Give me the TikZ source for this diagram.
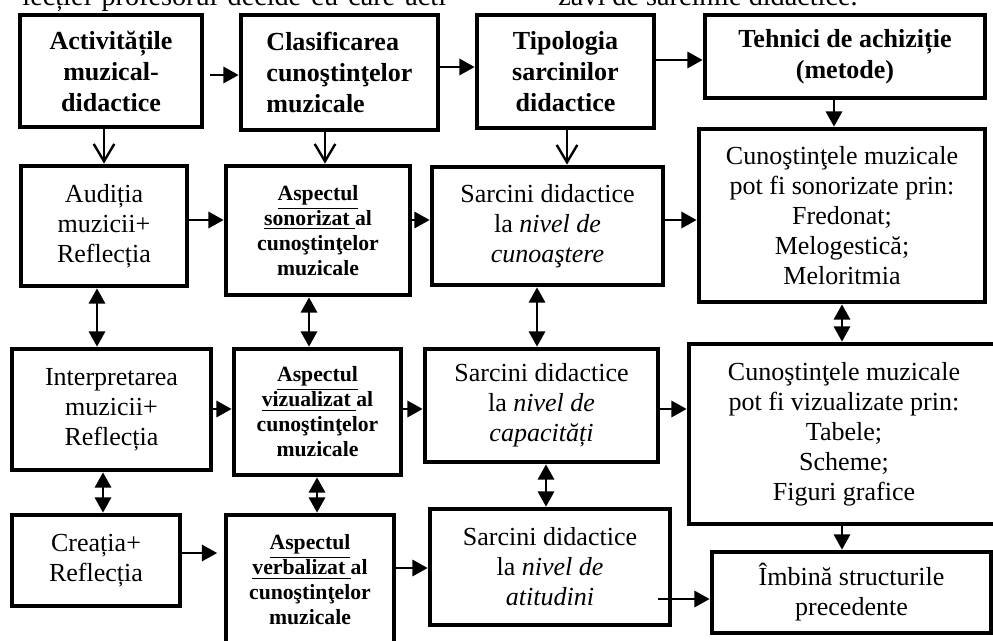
\documentclass[tikz,border=0pt]{standalone}
\usepackage{fontspec}
\setmainfont{Liberation Serif}
\usepackage{tikz}
\usetikzlibrary{arrows.meta,positioning}

\tikzset{
  box/.style={draw, line width=2.2pt, align=center, inner sep=0pt, font=\fontsize{12}{13.8}\selectfont},
  headbox/.style={box, font=\fontsize{12}{14.3}\selectfont\bfseries},
  aspectbox/.style={box, font=\fontsize{10}{11.5}\selectfont\bfseries},
  sz/.style 2 args={minimum width=#1*0.4609pt, minimum height=#2*0.4609pt},
  arr/.style={-{Triangle[length=7pt,width=7.5pt]}, line width=1.1pt},
  darr/.style={{Triangle[length=7pt,width=7.5pt]}-{Triangle[length=7pt,width=7.5pt]}, line width=1.1pt},
  varr/.style={-{Straight Barb[length=8pt,width=9.5pt]}, line width=1.1pt}
}

\begin{document}
\begin{tikzpicture}[x=0.4609pt, y=-0.4609pt]
    \useasboundingbox (0,0) rectangle (993,640);

    % cut-off text above the scheme
    \node[anchor=base west, inner sep=0pt, font=\fontsize{13}{15}\selectfont] (txa) at (22,5.5)
        {\makebox[199.6pt][s]{lecției profesorul decide cu care acti-}};
    \node[anchor=base west, inner sep=0pt, font=\fontsize{13}{15}\selectfont] (txb) at (558,5.5)
        {zavi de sarcinile didactice.};

    % header row
    \node[headbox, sz={182}{112}] (act) at (111,71) {Activitățile\\muzical-\\didactice};
    \node[headbox, sz={197}{115}, align=left] (clas) at (339.5,72.5) {Clasificarea\\cunoştinţelor\\muzicale};
    \node[headbox, sz={177}{113}] (tip) at (565.5,71.5) {Tipologia\\sarcinilor\\didactice};
    \node[headbox, sz={280}{83}] (teh) at (845,56.5) {Tehnici de achiziție\\(metode)};

    % row 2
    \node[box, sz={166}{120}] (aud) at (104,226) {Audiția\\muzicii+\\Reflecția};
    \node[aspectbox, sz={184}{129}] (son) at (318,230.5)
        {\underline{Aspectul}\\\underline{sonorizat }al\\cunoştinţelor\\muzicale};
    \node[box, sz={231}{118}] (cun) at (547.5,226) {Sarcini didactice\\la \textit{nivel de}\\\textit{cunoaştere}};
    \node[box, sz={286}{173}] (msn) at (842,215.5)
        {Cunoştinţele muzicale\\pot fi sonorizate prin:\\Fredonat;\\Melogestică;\\Meloritmia};

    % row 3
    \node[box, sz={199}{121}] (intp) at (111.5,409.5) {Interpretarea\\muzicii+\\Reflecția};
    \node[aspectbox, sz={167}{126}] (viz) at (317.5,412)
        {\underline{Aspectul}\\\underline{vizualizat }al\\cunoştinţelor\\muzicale};
    \node[box, sz={233}{113}] (cap) at (541.5,405.5) {Sarcini didactice\\la \textit{nivel de}\\\textit{capacități}};
    \node[box, sz={310}{180}] (mvz) at (844,434)
        {Cunoştinţele muzicale\\pot fi vizualizate prin:\\Tabele;\\Scheme;\\Figuri grafice};

    % row 4
    \node[box, sz={168}{91}] (crea) at (96,560.5) {Creația+\\Reflecția};
    \node[aspectbox, sz={168}{130}] (verb) at (310,580)
        {\underline{Aspectul}\\\underline{verbalizat }al\\cunoştinţelor\\muzicale};
    \node[box, sz={240}{116}] (atit) at (550,567) {Sarcini didactice\\la \textit{nivel de}\\\textit{atitudini}};
    \node[box, sz={279}{81}] (imb) at (851.5,592.5) {Îmbină structurile\\precedente};

    % horizontal arrows
    \draw[arr, shorten <=2.8pt] (act.east |- 0,75) -- (clas.west |- 0,75);
    \draw[arr] (clas.east |- 0,67) -- (tip.west |- 0,67);
    \draw[arr] (tip.east |- 0,60) -- (teh.west |- 0,60);
    \draw[arr] (aud.east |- 0,220) -- (son.west |- 0,220);
    \draw[arr] (son.east |- 0,220) -- (cun.west |- 0,220);
    \draw[arr] (cun.east |- 0,220) -- (msn.west |- 0,220);
    \draw[arr] (intp.east |- 0,409) -- (viz.west |- 0,409);
    \draw[arr] (viz.east |- 0,409) -- (cap.west |- 0,409);
    \draw[arr] (cap.east |- 0,409) -- (mvz.west |- 0,409);
    \draw[arr, shorten >=3pt] (crea.east |- 0,553) -- (verb.west |- 0,553);
    \draw[arr] (verb.east |- 0,568) -- (atit.west |- 0,568);
    \draw[arr, shorten <=-6.5pt] (atit.east |- 0,599) -- (imb.west |- 0,599);

    % vertical arrows
    \draw[varr] (act.south -| 104,0) -- (aud.north -| 104,0);
    \draw[varr] (clas.south -| 325,0) -- (son.north -| 325,0);
    \draw[varr] (tip.south -| 567,0) -- (cun.north -| 567,0);
    \draw[arr] (teh.south -| 834,0) -- (msn.north -| 834,0);
    \draw[darr] (aud.south -| 97,0) -- (intp.north -| 97,0);
    \draw[darr] (son.south -| 309,0) -- (viz.north -| 309,0);
    \draw[darr] (cun.south -| 537,0) -- (cap.north -| 537,0);
    \draw[darr] (msn.south -| 842,0) -- (mvz.north -| 842,0);
    \draw[darr] (intp.south -| 103,0) -- (crea.north -| 103,0);
    \draw[darr] (viz.south -| 317,0) -- (verb.north -| 317,0);
    \draw[darr] (cap.south -| 546,0) -- (atit.north -| 546,0);
    \draw[arr] (mvz.south -| 842,0) -- (imb.north -| 842,0);
\end{tikzpicture}
\end{document}
